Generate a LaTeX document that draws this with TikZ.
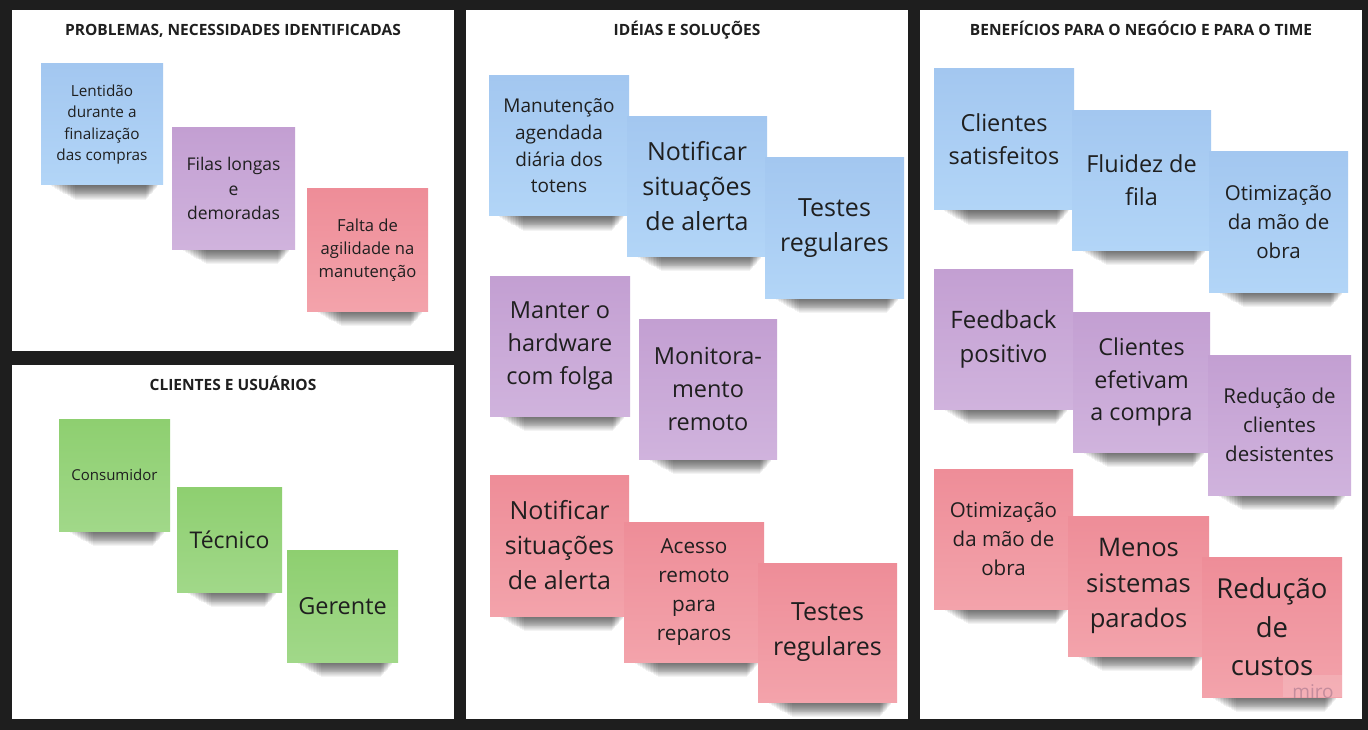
\documentclass[tikz,border=0pt]{standalone}
\usepackage{fontspec}
\setmainfont{Open Sans}
\newcommand\fs[1]{\pgfmathsetmacro\mybls{#1*1.4}\fontsize{#1}{\mybls}\selectfont}
\definecolor{bgdark}{HTML}{1E1E1E}
\definecolor{txt}{HTML}{1F1F1F}
\definecolor{blueT}{RGB}{163,199,240}
\definecolor{blueB}{RGB}{178,213,247}
\definecolor{purpT}{RGB}{195,159,210}
\definecolor{purpB}{RGB}{208,179,221}
\definecolor{pinkT}{RGB}{238,141,152}
\definecolor{pinkB}{RGB}{243,163,171}
\definecolor{grnT}{RGB}{142,207,112}
\definecolor{grnB}{RGB}{161,216,137}
\definecolor{miroc}{RGB}{196,140,156}
\tikzset{
  panel/.style={fill=white, draw=none},
  ttl/.style={font=\bfseries\fs{15.5}, text=txt, anchor=base},
  note/.style={draw=none, inner sep=2pt, outer sep=0pt, align=center, text=txt, anchor=north west},
  bluenote/.style={top color=blueT, bottom color=blueB},
  purpnote/.style={top color=purpT, bottom color=purpB},
  pinknote/.style={top color=pinkT, bottom color=pinkB},
  grnnote/.style={top color=grnT, bottom color=grnB},
}
% #1 name, #2 x, #3 y, #4 w, #5 h, #6 colour style, #7 font size, #8 text
\newcommand\sticky[8]{%
  \foreach \i in {1,...,16}{
    \fill[black, opacity=0.048] ({#2+8+1.6*\i},{#3+#5-2}) rectangle ({#2+#4-4-0.8*\i},{#3+#5+0.95*\i});
  }
  \node[note, #6, minimum width=#4, minimum height=#5, font=\fs{#7}] (#1) at (#2,#3) {#8};
}
\begin{document}
\begin{tikzpicture}[x=1pt, y=-1pt]
\useasboundingbox (0,0) rectangle (1368,730);
\fill[bgdark] (0,0) rectangle (1368,730);
% panels
\fill[panel] (12,10) rectangle (454,351);
\fill[panel] (12,365) rectangle (454,719);
\fill[panel] (466,10) rectangle (908,719);
\fill[panel] (920,10) rectangle (1362,719);
% titles
\node[ttl] (t1) at (233,36) {PROBLEMAS, NECESSIDADES IDENTIFICADAS};
\node[ttl] (t2) at (233,390) {CLIENTES E USUÁRIOS};
\node[ttl] (t3) at (687,36) {IDÉIAS E SOLUÇÕES};
\node[ttl] (t4) at (1141,36) {BENEFÍCIOS PARA O NEGÓCIO E PARA O TIME};
% panel 1
\sticky{p1}{41}{64}{122}{121}{bluenote}{15.3}{Lentidão\\durante a\\finalização\\das compras}
\sticky{p2}{172}{128}{123}{121}{purpnote}{17.5}{Filas longas\\e\\demoradas}
\sticky{p3}{307}{189}{121}{122}{pinknote}{16.6}{Falta de\\agilidade na\\manutenção}
% panel 2
\sticky{c1}{59}{419}{111}{112}{grnnote}{15}{Consumidor}
\sticky{c2}{177}{487}{105}{105}{grnnote}{23}{Técnico}
\sticky{c3}{287}{550}{111}{112}{grnnote}{23.5}{Gerente}
% panel 3
\sticky{i1}{489}{76}{140}{140}{bluenote}{19}{Manutenção\\agendada\\diária dos\\totens}
\sticky{i2}{627}{117}{140}{139}{bluenote}{25}{Notificar\\situações\\de alerta}
\sticky{i3}{765}{158}{139}{140}{bluenote}{25}{Testes\\regulares}
\sticky{i4}{490}{276}{140}{140}{purpnote}{23.5}{Manter o\\hardware\\com folga}
\sticky{i5}{639}{319}{138}{140}{purpnote}{23.5}{Monitora-\\mento\\remoto}
\sticky{i6}{490}{475}{139}{141}{pinknote}{25}{Notificar\\situações\\de alerta}
\sticky{i7}{624}{522}{140}{140}{pinknote}{20.7}{Acesso\\remoto\\para\\reparos}
\sticky{i8}{758}{563}{139}{139}{pinknote}{25}{Testes\\regulares}
% panel 4
\sticky{b1}{934}{69}{140}{141}{bluenote}{23.5}{Clientes\\satisfeitos}
\sticky{b2}{1072}{111}{139}{139}{bluenote}{23.5}{Fluidez de\\fila}
\sticky{b3}{1209}{152}{139}{140}{bluenote}{20.5}{Otimização\\da mão de\\obra}
\sticky{b4}{934}{269}{139}{140}{purpnote}{24}{Feedback\\positivo}
\sticky{b5}{1073}{312}{137}{140}{purpnote}{23.3}{Clientes\\efetivam\\a compra}
\sticky{b6}{1208}{355}{143}{140}{purpnote}{20.5}{Redução de\\clientes\\desistentes}
\sticky{b7}{934}{469}{139}{140}{pinknote}{20.5}{Otimização\\da mão de\\obra}
\sticky{b8}{1068}{516}{141}{140}{pinknote}{25.6}{Menos\\sistemas\\parados}
\sticky{b9}{1202}{557}{140}{140}{pinknote}{27.5}{Redução\\de\\custos}
% watermark
\fill[white, opacity=0.15] (1283,675) rectangle (1342,697);
\node[font=\fs{19}, text=miroc, anchor=base] (miro) at (1313,698) {miro};
\end{tikzpicture}
\end{document}
